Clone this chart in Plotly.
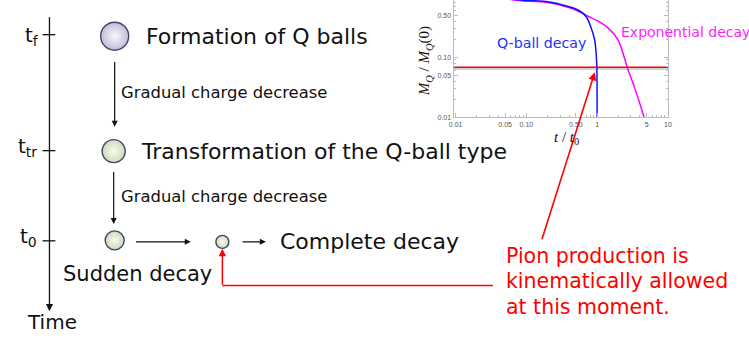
import plotly.graph_objects as go

# ---------------- data ----------------
t_qball = [0.01, 0.05, 0.086, 0.2, 0.39, 0.54, 0.70, 0.82, 0.92, 0.965, 0.99, 0.997, 0.9995]
m_qball = [0.995, 0.94, 0.89, 0.84, 0.70, 0.61, 0.47, 0.31, 0.196, 0.118, 0.068, 0.025, 0.005]

t_exp = [0.01, 0.05, 0.086, 0.2, 0.4, 0.6, 0.74, 1.02, 1.41, 1.94, 2.41, 2.67, 3.32, 4.1, 4.66, 5.2]
m_exp = [0.99, 0.93, 0.87, 0.81, 0.67, 0.55, 0.48, 0.40, 0.31, 0.20, 0.10, 0.067, 0.033, 0.0155, 0.0094, 0.005]

pion_threshold = 0.068

x_tickvals = [0.01, 0.05, 0.1, 0.5, 1, 5, 10]
x_ticktext = ["0.01", "0.05", "0.10", "0.50", "1", "5", "10"]
y_tickvals = [0.01, 0.05, 0.1, 0.5]
y_ticktext = ["0.01", "0.05", "0.10", "0.50"]

time_labels = ["t<sub>f</sub>", "t<sub>tr</sub>", "t<sub>0</sub>"]
stage_texts = ["Formation of Q balls", "Transformation of the Q-ball type", "Complete decay"]
process_text = "Gradual charge decrease"
sudden_text = "Sudden decay"
axis_text = "Time"
pion_lines = ["Pion production is", "kinematically allowed", "at this moment."]
curve_labels = ["Q-ball decay", "Exponential decay"]

# ---------------- styles ----------------
W, H = 749, 338
FONT = "DejaVu Sans, Noto Sans, sans-serif"
BLACK = "#111111"
RED = "#ff0000"

fig = go.Figure()

# ---- Q-ball circles (markers in pixel frame) ----
circles = [  # x, y, diameter, outer colour, centre colour
    (111, 36.5, 28, "#c4bbd8", "#f8f7fc"),
    (110, 152.5, 23, "#cfdcb8", "#f7f9f0"),
    (111, 242.5, 19, "#cfdcb8", "#f7f9f0"),
    (220, 244, 13, "#cfdcb8", "#f7f9f0"),
]
for cx, cy, d, c_out, c_in in circles:
    fig.add_trace(go.Scatter(
        x=[cx], y=[cy], mode="markers", xaxis="x", yaxis="y", hoverinfo="skip",
        marker=dict(size=d, color=c_out, gradient=dict(type="radial", color=c_in),
                    line=dict(color="#3a4866", width=1.4)),
        showlegend=False))

# ---- inset curves ----
fig.add_trace(go.Scatter(x=[0.0093, 10.5], y=[pion_threshold * 0.955] * 2, mode="lines",
                         xaxis="x2", yaxis="y2", line=dict(color="#d4d4d4", width=3),
                         hoverinfo="skip", showlegend=False))
fig.add_trace(go.Scatter(x=t_exp, y=m_exp, mode="lines", xaxis="x2", yaxis="y2",
                         line=dict(color="#ff00ff", width=1.5, shape="spline"),
                         showlegend=False))
fig.add_trace(go.Scatter(x=t_qball, y=m_qball, mode="lines", xaxis="x2", yaxis="y2",
                         line=dict(color="#1010ff", width=1.5, shape="spline", smoothing=0.6),
                         showlegend=False))
fig.add_trace(go.Scatter(x=[0.0093, 10.5], y=[pion_threshold] * 2, mode="lines",
                         xaxis="x2", yaxis="y2", line=dict(color=RED, width=1.6),
                         hoverinfo="skip", showlegend=False))

shapes = []
annotations = []

def line(x0, y0, x1, y1, color=BLACK, width=1.3):
    shapes.append(dict(type="line", xref="x", yref="y", x0=x0, y0=y0, x1=x1, y1=y1,
                       line=dict(color=color, width=width), layer="above"))

def arrow(x0, y0, x1, y1, color=BLACK, width=1.2, size=1.0):
    annotations.append(dict(xref="x", yref="y", axref="x", ayref="y", x=x1, y=y1,
                            ax=x0, ay=y0, showarrow=True, arrowhead=2, arrowsize=size,
                            arrowwidth=width, arrowcolor=color, text=""))

def text(x, y, s, size, color=BLACK, xanchor="left", family=FONT, angle=0):
    annotations.append(dict(xref="x", yref="y", x=x, y=y, text=s, showarrow=False,
                            xanchor=xanchor, yanchor="middle", textangle=angle,
                            font=dict(family=family, size=size, color=color)))

# time axis
arrow(45, 16, 45, 314, width=1.3, size=1.1)
for ty in (35, 152, 243):
    line(38, ty, 51, ty)
text(36, 36, time_labels[0], 20, xanchor="right")
text(34, 148, time_labels[1], 20, xanchor="right")
text(34, 239, time_labels[2], 20, xanchor="right")
text(48, 325, axis_text, 20, xanchor="center")

# stage texts
text(141, 37, stage_texts[0], 22)
text(136, 153, stage_texts[1], 22)
text(276, 244, stage_texts[2], 22)
text(134, 276, sudden_text, 21, xanchor="center")

# vertical process arrows
arrow(111, 61, 111, 128)
arrow(110, 172, 110, 226)
text(115, 93, process_text, 16.4)
text(115, 198, process_text, 16.4)

# horizontal arrows
arrow(131, 244, 188, 244)
arrow(239, 244, 264, 244)

# red connector and annotation
line(220, 288, 494, 288, color=RED, width=1.5)
arrow(220, 288.7, 220, 251, color=RED, width=1.5, size=1.0)
arrow(543, 243, 597, 73, color=RED, width=1.6, size=1.0)
for i, s in enumerate(pion_lines):
    text(505, 258 + 26 * i, s, 20.5, color=RED)

# inset labels
text(543, 43, curve_labels[0], 14.2, color="#1a33ff", xanchor="center")
text(621, 32, curve_labels[1], 14, color="#ff22ff")
text(426, 62, "<i>M</i><sub><i>Q</i></sub> / <i>M</i><sub><i>Q</i></sub>(0)", 15,
     family="Liberation Serif, DejaVu Serif, serif", xanchor="center", angle=-90)
text(568, 139, "<i>t</i> / <i>t</i><sub>0</sub>", 15,
     family="Liberation Serif, DejaVu Serif, serif", xanchor="center")

minor_x = [m * 10 ** e for e in (-2, -1, 0) for m in (2, 3, 4, 6, 7, 8, 9)]
minor_y = [m * 10 ** e for e in (-2, -1) for m in (2, 3, 4, 6, 7, 8, 9)]

AX_GRAY = "#bdbdbd"
TICKFONT = dict(family="Liberation Sans, Arial, sans-serif", size=7, color="#555555")

fig.update_layout(
    width=W, height=H, margin=dict(l=0, r=0, t=0, b=0),
    paper_bgcolor="white", plot_bgcolor="rgba(0,0,0,0)",
    xaxis=dict(range=[0, W], domain=[0, 1], visible=False, fixedrange=True),
    yaxis=dict(range=[H, 0], domain=[0, 1], visible=False, fixedrange=True),
    xaxis2=dict(type="log", range=[-2.03, 1.0], domain=[454 / W, 671 / W], anchor="y2",
                tickvals=x_tickvals, ticktext=x_ticktext, ticks="inside", ticklen=4,
                tickcolor=AX_GRAY, tickfont=TICKFONT, showline=True, linecolor=AX_GRAY,
                linewidth=1, showgrid=False, zeroline=False,
                minor=dict(tickvals=minor_x, ticks="inside", ticklen=2, tickcolor=AX_GRAY)),
    yaxis2=dict(type="log", range=[-2.003, -0.048], domain=[1 - 118.5 / H, 1], anchor="x2",
                tickvals=y_tickvals, ticktext=y_ticktext, ticks="inside", ticklen=4,
                tickcolor=AX_GRAY, tickfont=TICKFONT, showline=True, linecolor=AX_GRAY,
                linewidth=1, mirror="ticks", showgrid=False, zeroline=False,
                minor=dict(tickvals=minor_y, ticks="inside", ticklen=2, tickcolor=AX_GRAY)),
    shapes=shapes, annotations=annotations, showlegend=False,
)
fig.add_shape(type="rect", xref="paper", yref="paper", x0=454 / W, x1=671 / W,
              y0=1 - 118.5 / H, y1=1, fillcolor="white", line=dict(width=0), layer="below")

fig.write_html("out.html", config={"displayModeBar": False},
               post_script="document.body.style.margin='0';document.body.style.overflow='hidden';")
